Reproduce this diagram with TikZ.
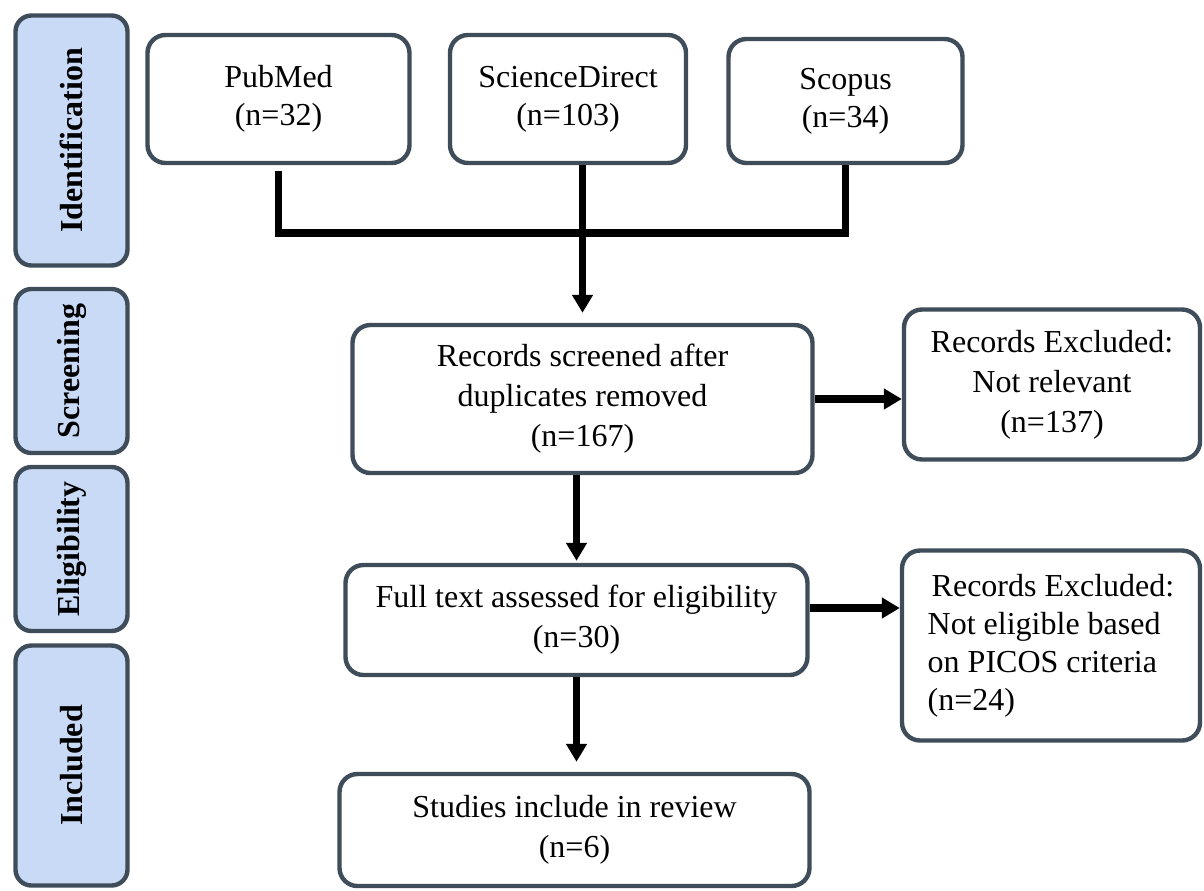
\documentclass[tikz,border=0pt]{standalone}
\usepackage{fontspec}
\setmainfont{Liberation Serif}
\usetikzlibrary{arrows.meta, positioning, calc}
\definecolor{pBorder}{HTML}{3F4D5A}
\definecolor{pStage}{HTML}{C9DAF6}
\tikzset{
  stagebox/.style={draw=pBorder, line width=2.2pt, rounded corners=8pt,
                   fill=pStage, rotate=90, inner sep=0pt,
                   font=\fontsize{16}{18}\selectfont\bfseries},
  flowbox/.style={draw=pBorder, line width=2.2pt, rounded corners=9pt,
                  fill=white, align=center, inner sep=0pt,
                  font=\fontsize{16}{20}\selectfont},
  link/.style={line width=3.6pt},
  flowarrow/.style={link, -{Triangle[width=10pt, length=9pt]}},
}

\begin{document}
\begin{tikzpicture}[x=0.5pt, y=-0.5pt]
    \useasboundingbox (0,0) rectangle (1204,890);
    % phases
    \node[stagebox, minimum width=125pt, minimum height=56pt] (sIdent)  at (71.5,140.5) {Identification};
    \node[stagebox, minimum width=82pt,  minimum height=56pt] (sScreen) at (71.5,371)   {Screening};
    \node[stagebox, minimum width=82pt,  minimum height=56pt] (sElig)   at (71.5,549)   {Eligibility};
    \node[stagebox, minimum width=120pt, minimum height=56pt] (sIncl)   at (71.5,765.5) {Included};
    % databases
    \node[flowbox, minimum width=131pt, minimum height=64pt, font=\fontsize{16}{19}\selectfont] (pubmed) at (278.5,99)  {PubMed\\(n=32)};
    \node[flowbox, minimum width=118pt, minimum height=64pt, font=\fontsize{16}{19}\selectfont] (sd)     at (568,99)    {ScienceDirect\\(n=103)};
    \node[flowbox, minimum width=117pt, minimum height=62pt, font=\fontsize{16}{19}\selectfont] (scopus) at (845.5,101) {Scopus\\(n=34)};
    % flow
    \node[flowbox, minimum width=230pt, minimum height=74pt] (screen) at (582.5,399) {Records screened after\\duplicates removed\\(n=167)};
    \node[flowbox, minimum width=148pt, minimum height=75pt] (excl1)  at (1052,384.5) {Records Excluded:\\Not relevant\\(n=137)};
    \node[flowbox, minimum width=231pt, minimum height=55pt] (full)   at (576.5,620) {Full text assessed for eligibility\\(n=30)};
    \node[flowbox, minimum width=149pt, minimum height=95pt, align=left,
          font=\fontsize{16}{19}\selectfont] (excl2) at (1051,645.5)
          {\hspace{2pt}Records Excluded:\\Not eligible based\\on PICOS criteria\\(n=24)};
    \node[flowbox, minimum width=235pt, minimum height=56pt] (incl)   at (574.5,830) {Studies include in review\\(n=6)};

    \coordinate (join) at (582,233);
    \draw[link] ([yshift=-3pt]pubmed.south) |- (join) -| (scopus.south);
    \draw[flowarrow, shorten >=5pt] (sd.south -| screen.north) -- (screen.north);
    \draw[flowarrow] (screen.east) -- (screen.east -| excl1.west);
    \draw[flowarrow, shorten >=1pt] (full.north |- screen.south) -- (full.north);
    \draw[flowarrow] ([yshift=6pt]full.east) -- ([yshift=6pt]full.east -| excl2.west);
    \draw[flowarrow, shorten >=5pt] (full.south) -- (full.south |- incl.north);
\end{tikzpicture}
\end{document}
